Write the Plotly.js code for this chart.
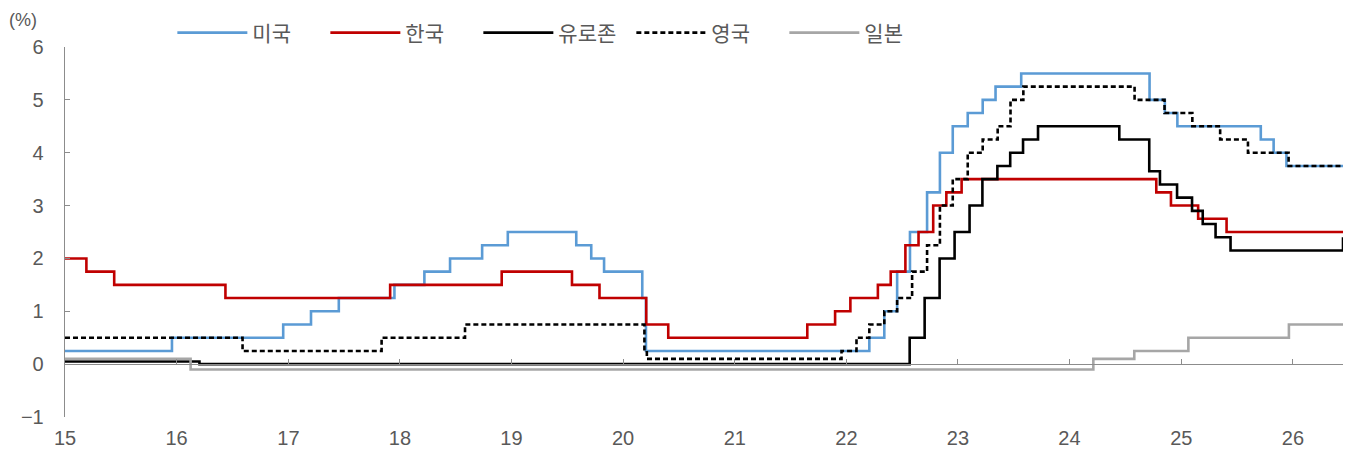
<!DOCTYPE html>
<html>
<head>
<meta charset="utf-8">
<script src="https://cdn.plot.ly/plotly-3.0.1.min.js"></script>
<style>
html, body { margin: 0; padding: 0; background: #fff; }
#chart { width: 1351px; height: 456px; }
</style>
</head>
<body>
<div id="chart"></div>
<script>
// ---- data (policy rates, %) ----
const endDate = "2026-06-14";

const seriesNames = ["미국", "한국", "유로존", "영국", "일본"];

const usDates = ["2015-01-01","2015-12-17","2016-12-15","2017-03-16","2017-06-15","2017-12-14","2018-03-22","2018-06-14","2018-09-27","2018-12-20","2019-08-01","2019-09-19","2019-10-31","2020-03-04","2020-03-16","2022-03-17","2022-05-05","2022-06-16","2022-07-28","2022-09-22","2022-11-03","2022-12-15","2023-02-02","2023-03-23","2023-05-04","2023-07-27","2024-09-19","2024-11-08","2024-12-19","2025-09-18","2025-10-30","2025-12-11", endDate];
const usRates = [0.25,0.5,0.75,1.0,1.25,1.5,1.75,2.0,2.25,2.5,2.25,2.0,1.75,1.25,0.25,0.5,1.0,1.75,2.5,3.25,4.0,4.5,4.75,5.0,5.25,5.5,5.0,4.75,4.5,4.25,4.0,3.75,3.75];

const krDates = ["2015-01-01","2015-03-12","2015-06-11","2016-06-09","2017-11-30","2018-11-30","2019-07-18","2019-10-16","2020-03-17","2020-05-28","2021-08-26","2021-11-25","2022-01-14","2022-04-14","2022-05-26","2022-07-13","2022-08-25","2022-10-12","2022-11-24","2023-01-13","2024-10-11","2024-11-28","2025-02-25","2025-05-29", endDate];
const krRates = [2.0,1.75,1.5,1.25,1.5,1.75,1.5,1.25,0.75,0.5,0.75,1.0,1.25,1.5,1.75,2.25,2.5,3.0,3.25,3.5,3.25,3.0,2.75,2.5,2.5];

const ezDates = ["2015-01-01","2016-03-16","2022-07-27","2022-09-14","2022-11-02","2022-12-21","2023-02-08","2023-03-22","2023-05-10","2023-06-21","2023-08-02","2023-09-20","2024-06-12","2024-09-18","2024-10-23","2024-12-18","2025-02-05","2025-03-12","2025-04-23","2025-06-11", endDate];
const ezRates = [0.05,0.0,0.5,1.25,2.0,2.5,3.0,3.5,3.75,4.0,4.25,4.5,4.25,3.65,3.4,3.15,2.9,2.65,2.4,2.15,2.4];

const ukDates = ["2015-01-01","2016-08-04","2017-11-02","2018-08-02","2020-03-11","2020-03-19","2021-12-16","2022-02-03","2022-03-17","2022-05-05","2022-06-16","2022-08-04","2022-09-22","2022-11-03","2022-12-15","2023-02-02","2023-03-23","2023-05-11","2023-06-22","2023-08-03","2024-08-01","2024-11-07","2025-02-06","2025-05-08","2025-08-07","2025-12-18", endDate];
const ukRates = [0.5,0.25,0.5,0.75,0.25,0.1,0.25,0.5,0.75,1.0,1.25,1.75,2.25,3.0,3.5,4.0,4.25,4.5,5.0,5.25,5.0,4.75,4.5,4.25,4.0,3.75,3.75];

const jpDates = ["2015-01-01","2016-02-16","2024-03-19","2024-07-31","2025-01-24","2025-12-19", endDate];
const jpRates = [0.1,-0.1,0.1,0.25,0.5,0.75,0.75];

const yTicks = [-1,0,1,2,3,4,5,6];

// ---- chart ----
const gray = "#595959";
const axisGray = "#8C8C8C";
const lw = 2.6;

function stepTrace(name, x, y, color, dash) {
  return {
    type: "scatter", mode: "lines", name: name, x: x, y: y,
    line: { shape: "hv", color: color, width: lw, dash: dash || "solid" },
    hoverinfo: "x+y+name"
  };
}

const traces = [
  stepTrace(seriesNames[0], usDates, usRates, "#5B9BD5"),
  stepTrace(seriesNames[1], krDates, krRates, "#C00000"),
  stepTrace(seriesNames[2], ezDates, ezRates, "#000000"),
  stepTrace(seriesNames[3], ukDates, ukRates, "#000000", "5px,3px"),
  stepTrace(seriesNames[4], jpDates, jpRates, "#A6A6A6"),
  { type: "scatter", mode: "lines", x: [], y: [], xaxis: "x2", yaxis: "y", showlegend: false, hoverinfo: "skip" }
];

const xRange = ["2015-01-01", endDate];

const layout = {
  width: 1351, height: 456,
  margin: { l: 65, r: 8, t: 47, b: 39 },
  paper_bgcolor: "#fff", plot_bgcolor: "#fff",
  font: { family: "'Noto Sans CJK KR', 'Liberation Sans', sans-serif", color: gray, size: 17 },
  showlegend: true,
  legend: {
    orientation: "h", x: 0.084, xanchor: "left", y: 1.038, yanchor: "middle",
    font: { size: 21, color: gray, family: "'Noto Sans CJK KR', sans-serif" },
    itemwidth: 70, entrywidth: 68, entrywidthmode: "pixels",
    traceorder: "normal", bgcolor: "rgba(0,0,0,0)"
  },
  xaxis: {
    type: "date", range: xRange, tickformat: "%y", dtick: "M12", tick0: "2015-01-01",
    showgrid: false, zeroline: false, showline: false, ticks: "",
    tickfont: { size: 20, color: gray, family: "'Liberation Sans', sans-serif" },
    ticklabelstandoff: 7, fixedrange: true
  },
  xaxis2: {
    type: "date", range: xRange, overlaying: "x", anchor: "free", position: 1/7,
    dtick: "M12", tick0: "2015-01-01", showticklabels: false,
    ticks: "inside", ticklen: 5, tickcolor: axisGray, tickwidth: 1,
    showline: true, linecolor: axisGray, linewidth: 1.3,
    showgrid: false, zeroline: false, fixedrange: true
  },
  yaxis: {
    range: [-1, 6], tickvals: yTicks, showgrid: false, zeroline: false,
    showline: true, linecolor: axisGray, linewidth: 1.3,
    ticks: "inside", ticklen: 5, tickcolor: axisGray,
    tickfont: { size: 20, color: gray, family: "'Liberation Sans', sans-serif" },
    ticklabelstandoff: 16, fixedrange: true
  },
  annotations: [
    { xref: "paper", yref: "paper", x: -0.033, y: 1.073, xanchor: "center", yanchor: "middle",
      text: "(%)", showarrow: false, font: { size: 18, color: gray, family: "'Liberation Sans', sans-serif" } }
  ]
};

Plotly.newPlot("chart", traces, layout, { displayModeBar: false, staticPlot: true });
</script>
</body>
</html>
